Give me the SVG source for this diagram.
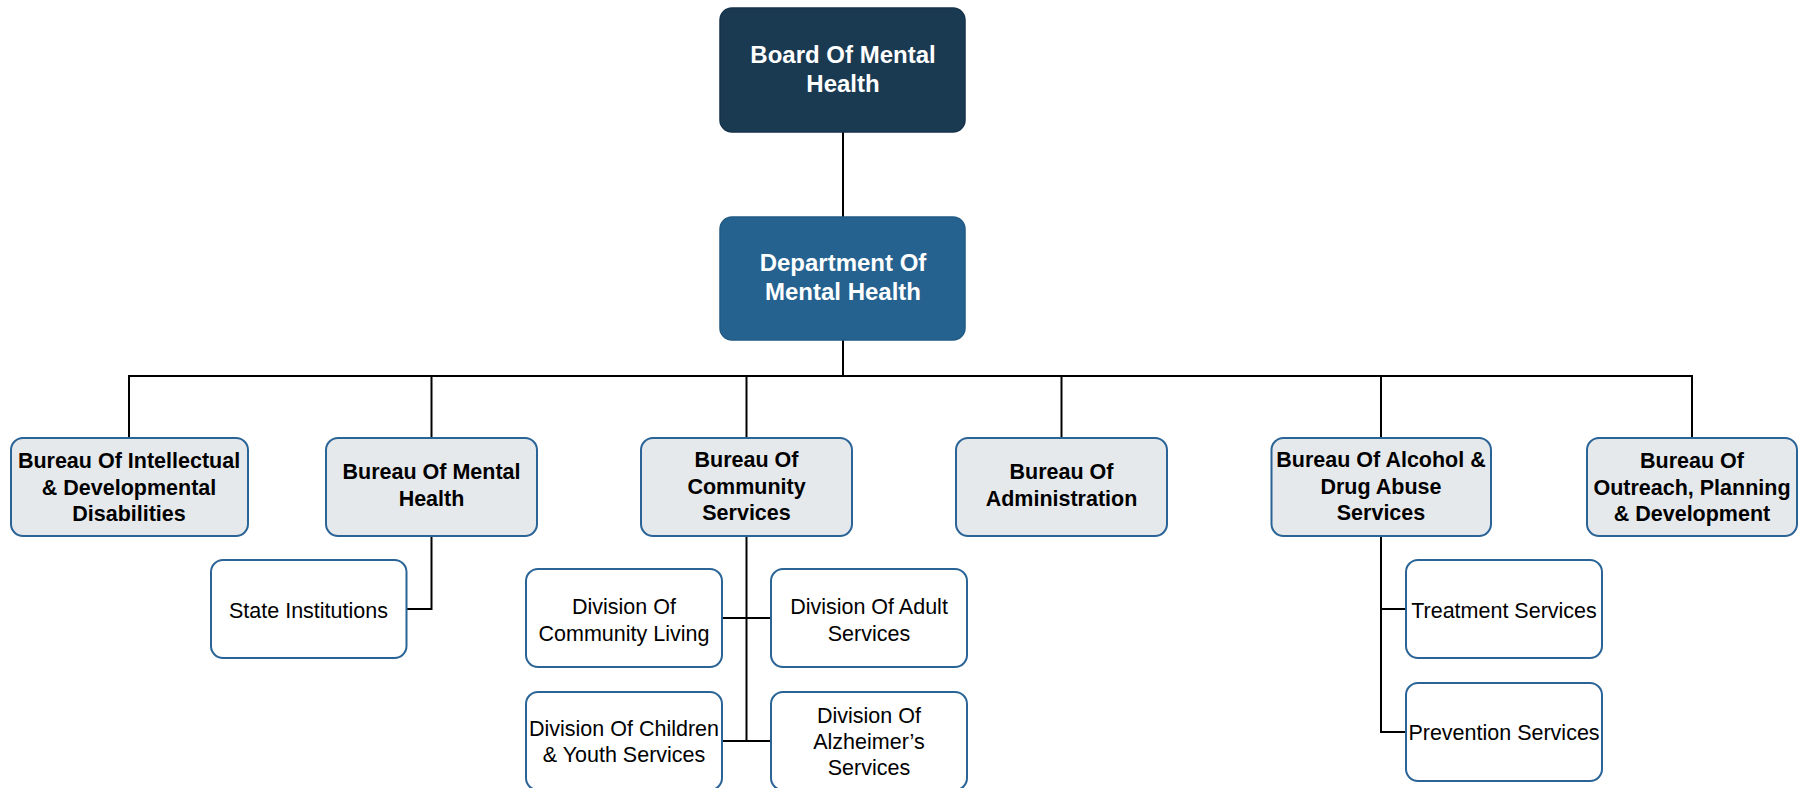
<svg xmlns="http://www.w3.org/2000/svg" width="1806" height="788" viewBox="0 0 1806 788">
<style>
.top{fill:#1a3a52;stroke:#15324a;stroke-width:1.5}
.dept{fill:#25628f;stroke:#215a85;stroke-width:1.5}
.bur{fill:#e6e9ec;stroke:#2a6496;stroke-width:2}
.div{fill:#ffffff;stroke:#2a6496;stroke-width:2}
.tw{font-family:"Liberation Sans",Arial,sans-serif;font-weight:bold;font-size:24px;fill:#ffffff;text-anchor:middle}
.tb{font-family:"Liberation Sans",Arial,sans-serif;font-weight:bold;font-size:21.5px;fill:#000000;text-anchor:middle}
.tr{font-family:"Liberation Sans",Arial,sans-serif;font-size:21.5px;fill:#000000;text-anchor:middle}
.ln{fill:none;stroke:#000000;stroke-width:2}
</style>
<g id="connectors">
<path class="ln" d="M843,132 V217"/>
<path class="ln" d="M843,340 V376"/>
<path class="ln" d="M129,438 V376 H1692 V438"/>
<path class="ln" d="M431.5,376 V438"/>
<path class="ln" d="M746.5,376 V438"/>
<path class="ln" d="M1061.5,376 V438"/>
<path class="ln" d="M1381,376 V438"/>
<path class="ln" d="M431.5,536 V609 H406.5"/>
<path class="ln" d="M746.5,536 V741"/>
<path class="ln" d="M722,618 H771"/>
<path class="ln" d="M722,741 H771"/>
<path class="ln" d="M1381,536 V732 H1406"/>
<path class="ln" d="M1381,609 H1406"/>
</g>
<g id="board">
<rect class="top" x="720" y="8" width="245" height="124" rx="12"/>
<text class="tw" x="843" y="63">Board Of Mental</text>
<text class="tw" x="843" y="92">Health</text>
</g>
<g id="department">
<rect class="dept" x="720" y="217" width="245" height="123" rx="12"/>
<text class="tw" x="843" y="271">Department Of</text>
<text class="tw" x="843" y="300">Mental Health</text>
</g>
<g id="bureau-idd">
<rect class="bur" x="11" y="438" width="237" height="98" rx="12"/>
<text class="tb" x="129" y="468">Bureau Of Intellectual</text>
<text class="tb" x="129" y="494.5">&amp; Developmental</text>
<text class="tb" x="129" y="521">Disabilities</text>
</g>
<g id="bureau-mh">
<rect class="bur" x="326" y="438" width="211" height="98" rx="12"/>
<text class="tb" x="431.5" y="479">Bureau Of Mental</text>
<text class="tb" x="431.5" y="506">Health</text>
</g>
<g id="bureau-cs">
<rect class="bur" x="641" y="438" width="211" height="98" rx="12"/>
<text class="tb" x="746.5" y="467">Bureau Of</text>
<text class="tb" x="746.5" y="493.5">Community</text>
<text class="tb" x="746.5" y="520">Services</text>
</g>
<g id="bureau-admin">
<rect class="bur" x="956" y="438" width="211" height="98" rx="12"/>
<text class="tb" x="1061.5" y="479">Bureau Of</text>
<text class="tb" x="1061.5" y="506">Administration</text>
</g>
<g id="bureau-ada">
<rect class="bur" x="1271.5" y="438" width="219.5" height="98" rx="12"/>
<text class="tb" x="1381" y="467">Bureau Of Alcohol &amp;</text>
<text class="tb" x="1381" y="493.5">Drug Abuse</text>
<text class="tb" x="1381" y="520">Services</text>
</g>
<g id="bureau-opd">
<rect class="bur" x="1587" y="438" width="210" height="98" rx="12"/>
<text class="tb" x="1692" y="468">Bureau Of</text>
<text class="tb" x="1692" y="494.5">Outreach, Planning</text>
<text class="tb" x="1692" y="521">&amp; Development</text>
</g>
<g id="state-institutions">
<rect class="div" x="211" y="560" width="195.5" height="98" rx="12"/>
<text class="tr" x="308.5" y="618">State Institutions</text>
</g>
<g id="div-community-living">
<rect class="div" x="526" y="569" width="196" height="98" rx="12"/>
<text class="tr" x="624" y="614">Division Of</text>
<text class="tr" x="624" y="641">Community Living</text>
</g>
<g id="div-adult">
<rect class="div" x="771" y="569" width="196" height="98" rx="12"/>
<text class="tr" x="869" y="614">Division Of Adult</text>
<text class="tr" x="869" y="641">Services</text>
</g>
<g id="div-children">
<rect class="div" x="526" y="692" width="196" height="98" rx="12"/>
<text class="tr" x="624" y="736">Division Of Children</text>
<text class="tr" x="624" y="762">&amp; Youth Services</text>
</g>
<g id="div-alzheimers">
<rect class="div" x="771" y="692" width="196" height="98" rx="12"/>
<text class="tr" x="869" y="723">Division Of</text>
<text class="tr" x="869" y="749">Alzheimer’s</text>
<text class="tr" x="869" y="775">Services</text>
</g>
<g id="treatment">
<rect class="div" x="1406" y="560" width="196" height="98" rx="12"/>
<text class="tr" x="1504" y="618">Treatment Services</text>
</g>
<g id="prevention">
<rect class="div" x="1406" y="683" width="196" height="98" rx="12"/>
<text class="tr" x="1504" y="740">Prevention Services</text>
</g>
</svg>
